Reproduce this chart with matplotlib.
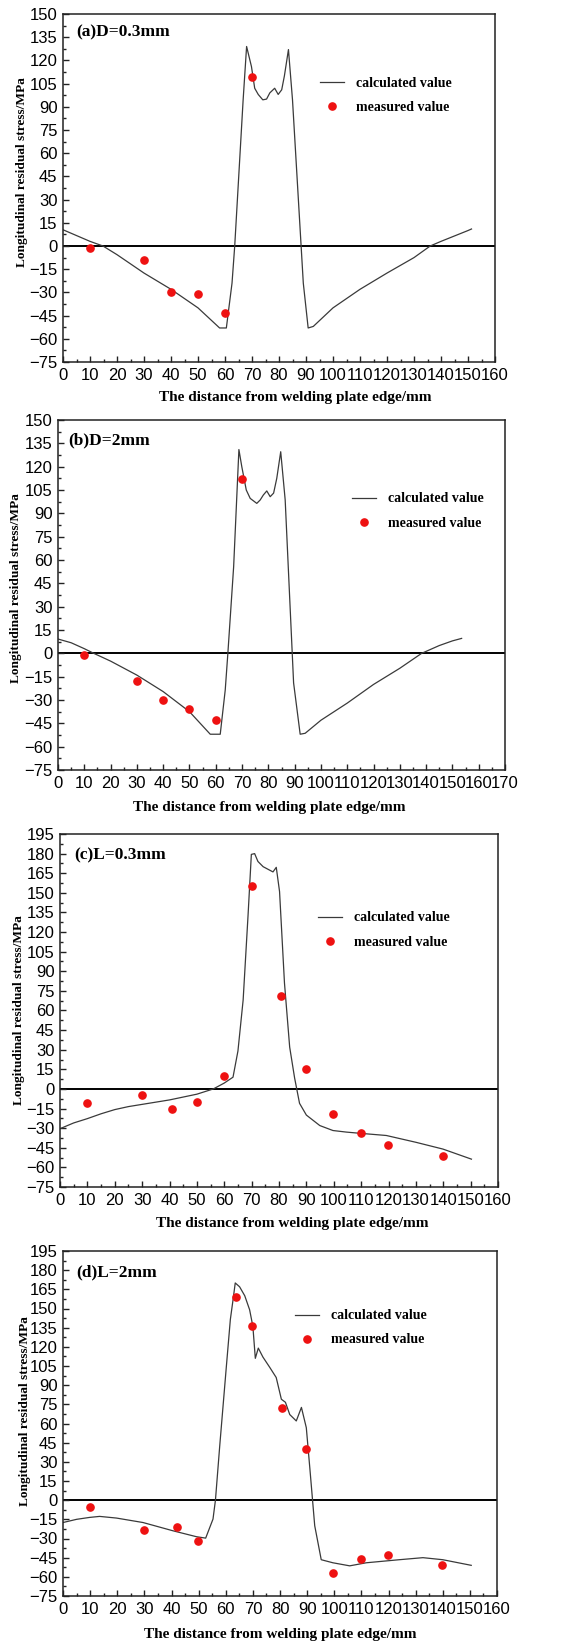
import numpy as np
import matplotlib
matplotlib.use('Agg')
import matplotlib.pyplot as plt
from matplotlib.ticker import MultipleLocator

# ---- data ----
# (a) D=0.3mm
a_calc_x = [0, 10, 14.8, 20, 30, 40, 50, 58, 60.5, 62.6, 63.6, 66.7, 68, 69.8, 71, 72.3, 74, 75.4,
            76.6, 78.4, 79.7, 81, 82, 83.5, 85, 89, 90.8, 92.7, 100, 110, 120, 130, 136, 140, 150, 151.3]
a_calc_y = [10.5, 3, 0, -5.6, -17.5, -28, -40, -53, -53, -24, 0, 94, 129, 116, 102, 98, 94.5, 95,
            99, 102, 98, 101, 110, 127, 94.5, -24, -53, -52, -40, -28, -17.5, -7.5, 0, 3, 10, 11]
a_meas_x = [10, 30, 40, 50, 60, 70]
a_meas_y = [-1.2, -9, -30, -31, -43.5, 109]

# (b) D=2mm
b_calc_x = [0, 5, 10, 13.6, 20, 30, 40, 50, 57.9, 61.7, 63.6, 64.6, 66.8, 68.8, 69.9, 71.6, 73.1, 75.6,
            76.9, 78.1, 79.4, 80.7, 82, 83.2, 84.7, 86.4, 89.6, 92.1, 94, 100, 110, 120, 130, 138.3,
            145, 150, 153.5]
b_calc_y = [9.2, 6.8, 3, 0, -5, -14, -24.6, -37.5, -52, -52, -23.6, 0, 55.7, 131, 120, 105, 99.6, 96.4,
            98.6, 101.8, 104.4, 100.7, 103, 112.5, 129.6, 98.6, -19, -52, -51.4, -43, -32, -20, -9.6,
            0, 5, 8, 9.6]
b_meas_x = [10, 30, 40, 50, 60, 70]
b_meas_y = [-1.3, -18, -30, -36, -43, 112]

# (c) L=0.3mm
c_calc_x = [0, 5, 10, 15, 20, 25, 30, 40, 50, 56, 60, 63.2, 65, 66.9, 68.7, 69.9, 71.1, 72.3, 74.2,
            77.8, 79, 80.2, 82, 83.9, 85.7, 87.5, 90, 94.9, 99.7, 104.6, 110, 119.2, 130, 139.9, 150.3]
c_calc_y = [-30.4, -26, -22.7, -19, -15.8, -13.5, -11.8, -8.4, -4, 0, 4.5, 9, 29, 68, 133, 179.4,
            180, 174, 170, 166, 169.5, 151, 81, 32, 8.4, -11, -20, -28, -31.8, -33, -34, -35.6,
            -40.8, -46, -53.7]
c_meas_x = [10, 30, 41, 50, 60, 70, 80.8, 89.7, 99.8, 109.8, 119.8, 139.9]
c_meas_y = [-11, -5, -15, -10, 9.7, 155.5, 71.4, 15, -19, -34, -43, -51]

# (d) L=2mm
d_calc_x = [0, 5, 9.8, 13.5, 19.7, 29.5, 40.6, 49.2, 52.6, 55.3, 56.2, 57.8, 60.2, 61.7, 62.7, 63.5,
            65.1, 67, 68.8, 70, 70.9, 72, 73.7, 76.2, 78.6, 80.5, 82, 83.6, 86, 87.9, 89.7, 91, 92.8,
            95.2, 99.5, 105.7, 111.8, 124, 132.7, 140, 150.5]
d_calc_y = [-17.5, -15, -13.5, -12.7, -14, -17.5, -24, -28.6, -29.7, -14.8, 0, 43, 104, 141.5, 157,
            170, 167, 160, 149, 136, 111, 119, 112, 104, 96, 79, 76.6, 67, 62, 72.6, 56.7, 25, -20,
            -46.6, -49, -51.4, -49, -46.6, -45, -46.6, -51]
d_meas_x = [9.8, 29.9, 41.9, 49.8, 63.9, 69.8, 80.7, 89.7, 99.7, 109.9, 119.7, 139.7]
d_meas_y = [-5, -23, -21, -32, 158.7, 136, 72, 40, -57, -46, -43, -51]

titles = ['(a)D=0.3mm', '(b)D=2mm', '(c)L=0.3mm', '(d)L=2mm']
xlabel = 'The distance from welding plate edge/mm'
ylabel = 'Longitudinal residual stress/MPa'

W, H = 563, 1643
fig = plt.figure(figsize=(W / 100, H / 100), dpi=100)

# left, right, top, bottom in pixels
boxes = [(63, 495, 14, 362), (58, 505, 420, 770), (60, 498, 834, 1187), (63, 497, 1251, 1596)]
xmaxs = [160, 170, 160, 160]
ylims = [(-75, 150), (-75, 150), (-75, 195), (-75, 195)]
leg_pos = [(0.595, 0.767), (0.658, 0.74), (0.589, 0.728), (0.535, 0.777)]
title_pos = [(0.03, 0.948), (0.022, 0.943), (0.032, 0.94), (0.03, 0.939)]
xlab_pos = [(0.537, -0.103), (0.472, -0.106), (0.53, -0.102), (0.5, -0.113)]
ylab_pos = [(-0.095, 0.546), (-0.094, 0.519), (-0.094, 0.5), (-0.088, 0.536)]

data = [(a_calc_x, a_calc_y, a_meas_x, a_meas_y),
        (b_calc_x, b_calc_y, b_meas_x, b_meas_y),
        (c_calc_x, c_calc_y, c_meas_x, c_meas_y),
        (d_calc_x, d_calc_y, d_meas_x, d_meas_y)]

serif = ['Liberation Serif', 'DejaVu Serif']
sans = ['Liberation Sans', 'DejaVu Sans']

for i in range(4):
    l, r, t, b = boxes[i]
    ax = fig.add_axes([l / W, 1 - b / H, (r - l) / W, (b - t) / H])
    cx, cy, mx, my = data[i]
    ax.axhline(0, color='black', lw=1.4, zorder=1)
    ax.plot(cx, cy, color='#3a3a3a', lw=0.9, label='calculated value', zorder=2)
    ax.plot(mx, my, 'o', color='#ee1111', ms=5.2, mec='#ee1111', label='measured value', zorder=3)

    ax.set_xlim(0, xmaxs[i])
    ax.set_ylim(*ylims[i])
    ax.xaxis.set_major_locator(MultipleLocator(10))
    ax.xaxis.set_minor_locator(MultipleLocator(5))
    ax.yaxis.set_major_locator(MultipleLocator(15))
    ax.yaxis.set_minor_locator(MultipleLocator(7.5))
    ax.tick_params(which='both', direction='in', top=False, right=False, color='#222222')
    ax.tick_params(which='major', length=4.5, width=1.0, labelsize=12, pad=4)
    ax.tick_params(which='minor', length=2.5, width=1.0)
    for lab in ax.get_xticklabels() + ax.get_yticklabels():
        lab.set_family(sans)
    for sp in ax.spines.values():
        sp.set_linewidth(1.1)
        sp.set_color('#222222')

    ax.set_xlabel(xlabel, family=serif, fontweight='bold', fontsize=11)
    ax.xaxis.label.set_va('center')
    ax.xaxis.set_label_coords(*xlab_pos[i])
    ax.set_ylabel(ylabel, family=serif, fontweight='bold', fontsize=9.6)
    ax.yaxis.label.set_va('center')
    ax.yaxis.set_label_coords(*ylab_pos[i])

    ax.text(title_pos[i][0], title_pos[i][1], titles[i], transform=ax.transAxes,
            family=serif, fontweight='bold', fontsize=12.5, ha='left', va='center')

    ax.legend(loc='center left', bbox_to_anchor=leg_pos[i], frameon=False,
              prop={'family': serif, 'weight': 'bold', 'size': 10},
              borderpad=0, handlelength=1.7, handletextpad=0.9, labelspacing=0.8,
              borderaxespad=0)

plt.savefig('out.png', dpi=100)
